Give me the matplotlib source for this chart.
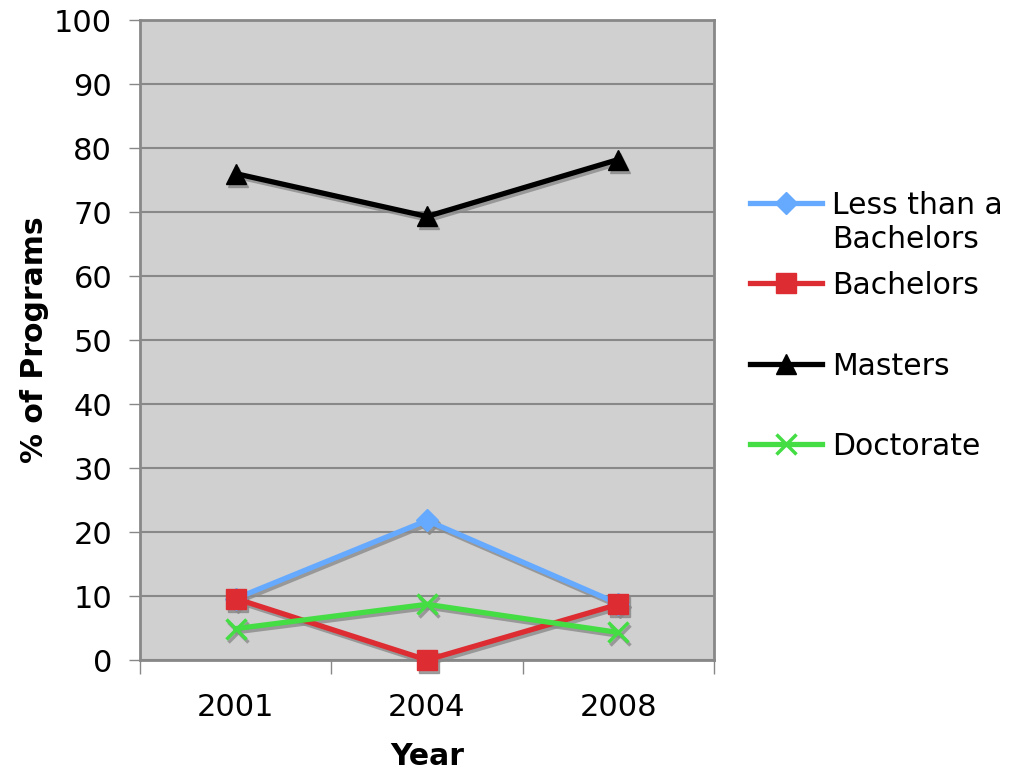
import matplotlib
matplotlib.use("Agg")
import matplotlib.pyplot as plt
import matplotlib.transforms as mtransforms
from matplotlib.lines import Line2D

# data
years = ["2001", "2004", "2008"]
less_than_bach = [9.6, 21.8, 8.8]
bachelors = [9.6, 0.0, 8.7]
masters = [76.0, 69.3, 78.2]
doctorate = [4.9, 8.7, 4.3]

labels = ["Less than a\nBachelors", "Bachelors", "Masters", "Doctorate"]
series = [less_than_bach, bachelors, masters, doctorate]
colors = ["#66aaff", "#dd2c32", "#000000", "#44dd44"]
markers = ["D", "s", "^", "x"]
msizes = [11, 15, 14, 14]

plt.rcParams["font.family"] = "DejaVu Sans"

W, H = 1010, 774
fig = plt.figure(figsize=(W / 100, H / 100), dpi=100)
ax = fig.add_axes([140 / W, 1 - 660 / H, 574 / W, 640 / H])
ax.set_facecolor("#d0d0d0")

x = list(range(len(years)))
# drop shadow: same series drawn grey, shifted a few pixels down/right
shift = mtransforms.ScaledTranslation(2 / 100, -3 / 100, fig.dpi_scale_trans)
for vals, c, m, ms in zip(series, colors, markers, msizes):
    ax.plot(x, vals, color="#8a8a8a", lw=3.8, marker=m, markersize=ms,
            mew=2.5 if m == "x" else 1, alpha=0.8, transform=ax.transData + shift,
            clip_on=False, zorder=2)
for vals, lab, c, m, ms in zip(series, labels, colors, markers, msizes):
    ax.plot(x, vals, color=c, lw=3.8, marker=m, markersize=ms, mew=2.5 if m == "x" else 1,
            mec=c, mfc=c, label=lab, clip_on=False, zorder=3)

ax.set_xlim(-0.5, 2.5)
ax.set_ylim(0, 100)
ax.set_yticks(range(0, 101, 10))
ax.yaxis.grid(True, color="#888888", lw=1.5)
ax.set_axisbelow(True)

ax.set_xticks([-0.5, 0.5, 1.5, 2.5])
ax.set_xticklabels([])
ax.set_xticks(x, minor=True)
ax.set_xticklabels(years, minor=True)
ax.tick_params(axis="x", which="major", length=10, color="#888888", width=1)
ax.tick_params(axis="x", which="minor", length=0, pad=24, labelsize=22)
ax.tick_params(axis="y", length=8, color="#888888", width=1, pad=12, labelsize=22)

for s in ax.spines.values():
    s.set_color("#888888")
    s.set_linewidth(2)

ax.set_ylabel("% of Programs", fontsize=21.5, fontweight="bold", labelpad=4)
ax.set_xlabel("Year", fontsize=21.5, fontweight="bold", labelpad=14)

# legend drawn by hand so the two-line entry lines up like the original
leg_y = [203, 283, 364, 444]
for lab, c, m, ms, yp in zip(labels, colors, markers, msizes, leg_y):
    yf = 1 - yp / H
    fig.add_artist(Line2D([750 / W, 822 / W], [yf, yf], transform=fig.transFigure,
                          color=c, lw=3.8))
    fig.add_artist(Line2D([786 / W], [yf], transform=fig.transFigure, color=c,
                          marker=m, markersize=ms, mew=2.5 if m == "x" else 1,
                          mec=c, mfc=c))
    fig.text(832 / W, yf + 12 / H, lab, fontsize=21.5, va="top",
             ha="left", linespacing=1.22, transform=fig.transFigure)

fig.savefig("out.png", dpi=100)
